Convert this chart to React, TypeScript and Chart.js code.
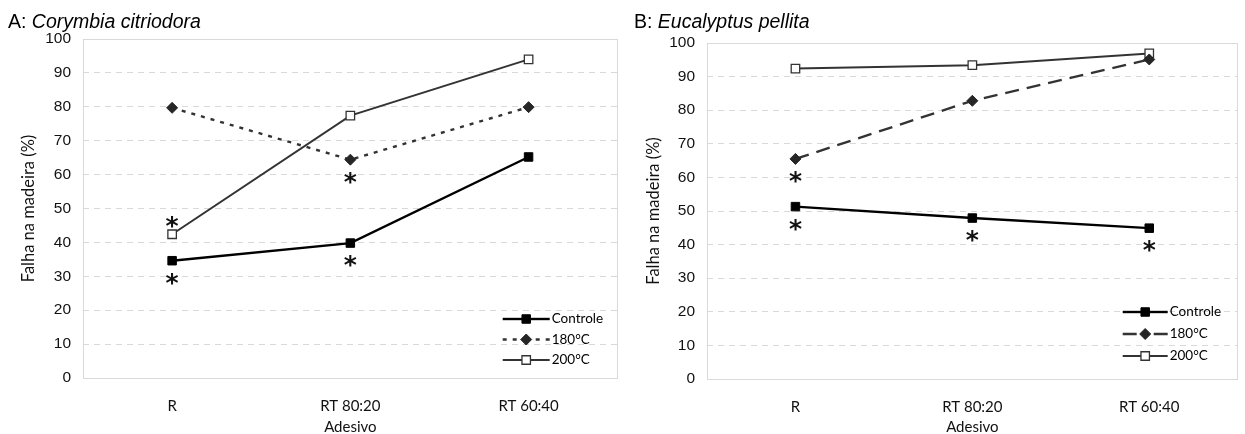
import React, { useEffect, useRef } from 'react';
import { Chart, registerables } from 'chart.js';

Chart.register(...registerables);

// ---------------- data ----------------
const categories = ['R', 'RT 80:20', 'RT 60:40'];
const seriesNames = ['Controle', '180°C', '200°C'];
const yMin = 0;
const yMax = 100;
const yStep = 10;

const corymbiaControle = [34.6, 39.8, 65.2];
const corymbia180 = [79.7, 64.4, 79.9];
const corymbia200 = [42.4, 77.4, 94.0];

const pellitaControle = [51.3, 47.9, 44.9];
const pellita180 = [65.5, 82.8, 95.1];
const pellita200 = [92.4, 93.4, 96.9];

// significance marks: [series index, category index, side]
const corymbiaStars: [number, number, string][] = [
  [0, 0, 'below'],
  [0, 1, 'below'],
  [1, 1, 'below'],
  [2, 0, 'above'],
];
const pellitaStars: [number, number, string][] = [
  [1, 0, 'below'],
  [0, 0, 'below'],
  [0, 1, 'below'],
  [0, 2, 'below'],
];

const yTitle = 'Falha na madeira (%)';
const xTitle = 'Adesivo';

// ---------------- plugin ----------------
const decorPlugin = {
  id: 'decor',
  beforeDatasetsDraw(chart: any) {
    const { ctx, chartArea: a } = chart;
    ctx.save();
    ctx.strokeStyle = '#d9d9d9';
    ctx.lineWidth = 1;
    ctx.setLineDash([]);
    ctx.strokeRect(Math.round(a.left) + 0.5, Math.round(a.top) + 0.5, Math.round(a.right - a.left) - 1, Math.round(a.bottom - a.top));
    ctx.restore();
  },
  afterDatasetsDraw(chart: any, _args: any, opts: any) {
    const { ctx, chartArea: a } = chart;
    ctx.save();
    // asterisks
    ctx.fillStyle = '#111';
    ctx.font = 'bold 25px "DejaVu Sans"';
    ctx.textAlign = 'left';
    ctx.textBaseline = 'alphabetic';
    const m = ctx.measureText('*');
    const L = m.actualBoundingBoxLeft, R = m.actualBoundingBoxRight;
    const A = m.actualBoundingBoxAscent, D = m.actualBoundingBoxDescent;
    for (const [ds, idx, side] of opts.stars || []) {
      const el = chart.getDatasetMeta(ds).data[idx];
      const cx = el.x;
      const cy = el.y + (side === 'below' ? 18 : -12);
      ctx.fillText('*', cx - (R - L) / 2, cy - (D - A) / 2);
    }
    // legend
    const lg = opts.legend;
    const x0 = a.right - lg.fromRight;
    chart.data.datasets.forEach((ds: any, i: number) => {
      const y = a.bottom - lg.fromBottom + i * lg.rowGap;
      const cx = x0 + lg.len / 2;
      ctx.save();
      ctx.strokeStyle = ds.borderColor;
      ctx.lineWidth = ds.borderWidth;
      ctx.setLineDash(ds.borderDash || []);
      ctx.beginPath();
      ctx.moveTo(x0, y);
      ctx.lineTo(cx, y);
      ctx.stroke();
      ctx.beginPath();
      ctx.moveTo(x0 + lg.len, y);
      ctx.lineTo(cx, y);
      ctx.stroke();
      ctx.restore();
      const r = ds.pointRadius;
      ctx.save();
      ctx.setLineDash([]);
      ctx.fillStyle = ds.pointBackgroundColor;
      ctx.strokeStyle = ds.pointBorderColor;
      ctx.lineWidth = ds.pointBorderWidth;
      ctx.beginPath();
      if (ds.pointStyle === 'rectRot') {
        ctx.moveTo(cx - r, y);
        ctx.lineTo(cx, y - r);
        ctx.lineTo(cx + r, y);
        ctx.lineTo(cx, y + r);
        ctx.closePath();
      } else {
        const s = Math.SQRT1_2 * r;
        ctx.rect(cx - s, y - s, 2 * s, 2 * s);
      }
      ctx.fill();
      ctx.stroke();
      ctx.restore();
      ctx.fillStyle = '#000';
      ctx.font = '13.5px Lato';
      ctx.textBaseline = 'middle';
      ctx.textAlign = 'left';
      ctx.fillText(ds.label, x0 + lg.len + 2, y);
    });
    ctx.restore();
  },
};

// ---------------- panel ----------------
type PanelProps = {
  width: number;
  left: number;
  padTop: number;
  padRight: number;
  yAxisWidth: number;
  xAxisHeight: number;
  values: number[][];
  dash180: number[];
  stars: [number, number, string][];
  legend: { fromRight: number; fromBottom: number; rowGap: number; len: number };
};

function Panel(p: PanelProps) {
  const ref = useRef<HTMLCanvasElement | null>(null);
  useEffect(() => {
    if (!ref.current) return;
    const tickFont = { family: 'Lato', size: 15 };
    const chart = new Chart(ref.current, {
      type: 'line',
      data: {
        labels: categories,
        datasets: [
          {
            label: seriesNames[0],
            data: p.values[0],
            borderColor: '#000',
            borderWidth: 2.4,
            pointStyle: 'rect',
            pointRadius: 6,
            pointBackgroundColor: '#000',
            pointBorderColor: '#000',
            pointBorderWidth: 1,
            tension: 0,
          },
          {
            label: seriesNames[1],
            data: p.values[1],
            borderColor: '#333',
            borderWidth: 2.4,
            borderDash: p.dash180,
            pointStyle: 'rectRot',
            pointRadius: 5.5,
            pointBackgroundColor: '#262626',
            pointBorderColor: '#262626',
            pointBorderWidth: 1,
            tension: 0,
          },
          {
            label: seriesNames[2],
            data: p.values[2],
            borderColor: '#333',
            borderWidth: 2,
            pointStyle: 'rect',
            pointRadius: 6,
            pointBackgroundColor: '#fff',
            pointBorderColor: '#333',
            pointBorderWidth: 1.3,
            tension: 0,
          },
        ] as any,
      },
      options: {
        responsive: false,
        animation: false,
        devicePixelRatio: 1,
        layout: { padding: { top: p.padTop, right: p.padRight, left: 0, bottom: 0 } },
        plugins: {
          legend: { display: false },
          tooltip: { enabled: false },
          decor: { stars: p.stars, legend: p.legend },
        } as any,
        scales: {
          x: {
            type: 'category',
            offset: true,
            grid: { display: false, drawTicks: false },
            border: { display: false },
            ticks: { font: tickFont, color: '#111', padding: 19, maxRotation: 0 },
            title: { display: true, text: xTitle, font: { family: 'Lato', size: 15, lineHeight: 1 }, color: '#111', padding: { top: 0, bottom: -1 } },
            afterFit: (s: any) => { s.height = p.xAxisHeight; },
          },
          y: {
            min: yMin,
            max: yMax,
            ticks: { stepSize: yStep, font: { family: 'Liberation Sans', size: 15.5 }, color: '#111', padding: 12 },
            grid: { color: '#d9d9d9', drawTicks: false, lineWidth: 1 },
            border: { display: false, dash: [6, 5] },
            title: { display: true, text: yTitle, font: { family: 'Lato', size: 16.5 }, color: '#111', padding: { top: 19, bottom: 0 } },
            afterFit: (s: any) => { s.width = p.yAxisWidth; },
          },
        } as any,
      },
      plugins: [decorPlugin as any],
    });
    return () => chart.destroy();
  }, []);
  return (
    <canvas
      ref={ref}
      width={p.width}
      height={434}
      style={{ position: 'absolute', left: p.left, top: 0, width: p.width, height: 434 }}
    />
  );
}

const titleStyle: React.CSSProperties = {
  position: 'absolute',
  top: 10,
  fontFamily: '"Liberation Sans", Arial, sans-serif',
  fontSize: 19.5,
  lineHeight: '22px',
  color: '#000',
  whiteSpace: 'nowrap',
};

export default function App() {
  return (
    <div style={{ position: 'fixed', left: 0, top: 0, width: 1245, height: 434, background: '#fff', overflow: 'hidden' }}>
      <Panel
        width={625}
        left={0}
        padTop={39}
        padRight={5}
        yAxisWidth={83}
        xAxisHeight={56}
        values={[corymbiaControle, corymbia180, corymbia200]}
        dash180={[4, 6]}
        stars={corymbiaStars}
        legend={{ fromRight: 115, fromBottom: 59, rowGap: 20.5, len: 47 }}
      />
      <Panel
        width={620}
        left={625}
        padTop={43}
        padRight={2}
        yAxisWidth={82}
        xAxisHeight={55}
        values={[pellitaControle, pellita180, pellita200]}
        dash180={[14, 8]}
        stars={pellitaStars}
        legend={{ fromRight: 115, fromBottom: 67, rowGap: 22, len: 45 }}
      />
      <div style={{ ...titleStyle, left: 8 }}>
        A: <i>Corymbia citriodora</i>
      </div>
      <div style={{ ...titleStyle, left: 634 }}>
        B: <i>Eucalyptus pellita</i>
      </div>
    </div>
  );
}
